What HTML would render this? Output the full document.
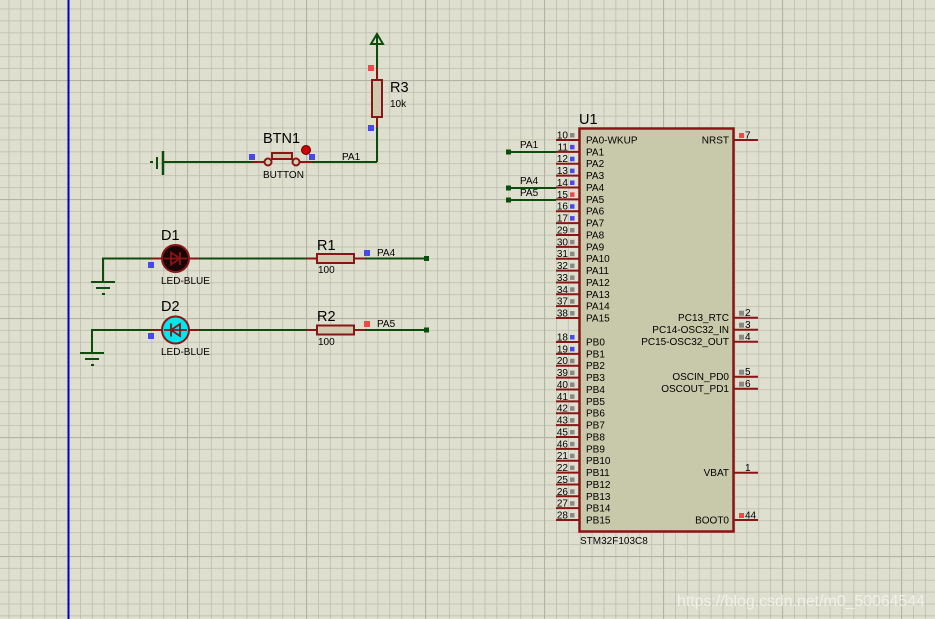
<!DOCTYPE html>
<html><head><meta charset="utf-8"><style>
html,body{margin:0;padding:0;background:#dfdfd0;}
svg{display:block;font-family:"Liberation Sans",sans-serif;}
</style></head><body>
<svg width="935" height="619" viewBox="0 0 935 619" xmlns="http://www.w3.org/2000/svg">
<defs>
<pattern id="g" x="8.6" y="8.6" width="11.9" height="11.9" patternUnits="userSpaceOnUse">
<path d="M0 0H11.9M0 0V11.9" stroke="#bbbbac" stroke-width="1.5" fill="none"/>
</pattern>
<pattern id="G" x="68" y="80" width="119" height="119" patternUnits="userSpaceOnUse">
<path d="M0 0H119M0 0V119" stroke="#b3b3a4" stroke-width="2.2" fill="none"/>
</pattern>
</defs>
<rect width="935" height="619" fill="#dfdfd0"/>
<rect width="935" height="619" fill="url(#g)"/>
<rect width="935" height="619" fill="url(#G)"/>
<line x1="68.5" y1="0" x2="68.5" y2="619" stroke="#0000c8" stroke-width="2"/>

<!-- Button circuit -->
<g stroke="#0b4d0b" stroke-width="2" fill="none">
<line x1="163" y1="162" x2="262" y2="162"/>
<line x1="302" y1="162" x2="377" y2="162"/>
<line x1="377" y1="162" x2="377" y2="126"/>
<line x1="377" y1="70" x2="377" y2="34"/>
<line x1="163" y1="151" x2="163" y2="175" stroke-width="2.5"/>
<line x1="157" y1="157" x2="157" y2="169"/>
<line x1="150" y1="162" x2="153" y2="162"/>
<path d="M371 44 L377 34 L383 44 Z"/>
</g>
<g stroke="#8b1414" stroke-width="2" fill="none">
<line x1="252" y1="162" x2="265" y2="162"/>
<line x1="300" y1="162" x2="312" y2="162"/>
<circle cx="268" cy="162" r="3.5" fill="#d6d3b5"/>
<circle cx="296" cy="162" r="3.5" fill="#d6d3b5"/>
<rect x="272" y="153" width="20" height="6" fill="#cdcab0"/>
<line x1="377" y1="68" x2="377" y2="80"/>
<line x1="377" y1="117" x2="377" y2="128"/>
<rect x="372" y="80" width="10" height="37" fill="#cdcab0"/>
</g>
<circle cx="306" cy="150" r="4.5" fill="#c00" stroke="#600" stroke-width="1"/>
<rect x="368" y="65" width="6" height="6" fill="#f04848"/>
<rect x="368" y="125" width="6" height="6" fill="#4848f0"/>
<rect x="249" y="154" width="6" height="6" fill="#4848f0"/>
<rect x="309" y="154" width="6" height="6" fill="#4848f0"/>
<text x="263" y="143" font-size="14.5">BTN1</text>
<text x="263" y="178" font-size="10">BUTTON</text>
<text x="342" y="160" font-size="10">PA1</text>
<text x="390" y="92" font-size="14.5">R3</text>
<text x="390" y="107" font-size="10">10k</text>

<!-- D1 / D2 -->
<g stroke="#0b4d0b" stroke-width="2" fill="none">
<polyline points="162,258.5 103,258.5 103,282"/>
<line x1="91" y1="282" x2="115" y2="282"/>
<line x1="96" y1="288" x2="110" y2="288"/>
<line x1="102" y1="294" x2="105" y2="294"/>
<line x1="189" y1="258.5" x2="308" y2="258.5"/>
<line x1="364" y1="258.5" x2="427" y2="258.5"/>
<polyline points="162,330 92,330 92,353"/>
<line x1="80" y1="353" x2="104" y2="353"/>
<line x1="85" y1="359" x2="99" y2="359"/>
<line x1="91" y1="365" x2="94" y2="365"/>
<line x1="189" y1="330" x2="308" y2="330"/>
<line x1="364" y1="330" x2="427" y2="330"/>
</g>
<rect x="424" y="256" width="5" height="5" fill="#0b4d0b"/>
<rect x="424" y="327.5" width="5" height="5" fill="#0b4d0b"/>
<g stroke="#8b1414" stroke-width="2">
<line x1="151" y1="258.5" x2="162" y2="258.5"/>
<line x1="189" y1="258.5" x2="199" y2="258.5"/>
<circle cx="175.5" cy="258.5" r="13.5" fill="#1a0505"/>
<line x1="151" y1="330" x2="162" y2="330"/>
<line x1="189" y1="330" x2="199" y2="330"/>
<circle cx="175.5" cy="330" r="13.5" fill="#00e8ec"/>
<line x1="306" y1="258.5" x2="317" y2="258.5"/>
<line x1="354" y1="258.5" x2="365" y2="258.5"/>
<rect x="317" y="254" width="37" height="9" fill="#cdcab0"/>
<line x1="306" y1="330" x2="317" y2="330"/>
<line x1="354" y1="330" x2="365" y2="330"/>
<rect x="317" y="325.5" width="37" height="9" fill="#cdcab0"/>
</g>
<g stroke="#8b1414" stroke-width="1.8" fill="none">
<path d="M180 252 L180 265 M180 258.5 L171 252.5 L171 264.5 Z M164 258.5 H187"/>
<path d="M171 323.5 L171 336.5 M171 330 L180 324 L180 336 Z M164 330 H187"/>
</g>
<rect x="148" y="262" width="6" height="6" fill="#4848f0"/>
<rect x="148" y="333" width="6" height="6" fill="#4848f0"/>
<rect x="364" y="250" width="6" height="6" fill="#4848f0"/>
<rect x="364" y="321" width="6" height="6" fill="#f04848"/>
<text x="161" y="240" font-size="14.5">D1</text>
<text x="161" y="284" font-size="10">LED-BLUE</text>
<text x="161" y="311" font-size="14.5">D2</text>
<text x="161" y="355" font-size="10">LED-BLUE</text>
<text x="317" y="250" font-size="14.5">R1</text>
<text x="318" y="273" font-size="10">100</text>
<text x="317" y="321" font-size="14.5">R2</text>
<text x="318" y="345" font-size="10">100</text>
<text x="377" y="256" font-size="10">PA4</text>
<text x="377" y="327" font-size="10">PA5</text>

<!-- MCU -->
<g stroke="#0b4d0b" stroke-width="2">
<line x1="508" y1="152" x2="556" y2="152"/>
<line x1="508" y1="188" x2="556" y2="188"/>
<line x1="508" y1="200" x2="556" y2="200"/>
</g>
<rect x="506" y="149.5" width="5" height="5" fill="#0b4d0b"/>
<rect x="506" y="185.5" width="5" height="5" fill="#0b4d0b"/>
<rect x="506" y="197.5" width="5" height="5" fill="#0b4d0b"/>
<text x="520" y="148" font-size="10">PA1</text>
<text x="520" y="184" font-size="10">PA4</text>
<text x="520" y="196" font-size="10">PA5</text>
<rect x="579.5" y="128.5" width="154" height="403" fill="#c8c8aa" stroke="#8b1414" stroke-width="2.5"/>
<text x="579" y="124" font-size="14.5">U1</text>
<text x="580" y="544" font-size="10">STM32F103C8</text>
<g id="pins" font-size="10"></g>
<script>
(function(){
var ns="http://www.w3.org/2000/svg",g=document.getElementById("pins");
function el(t,a,txt){var e=document.createElementNS(ns,t);for(var k in a)e.setAttribute(k,a[k]);if(txt)e.textContent=txt;g.appendChild(e);}
var pa=["PA0-WKUP","PA1","PA2","PA3","PA4","PA5","PA6","PA7","PA8","PA9","PA10","PA11","PA12","PA13","PA14","PA15"];
var pan=["10","11","12","13","14","15","16","17","29","30","31","32","33","34","37","38"];
var pb=["PB0","PB1","PB2","PB3","PB4","PB5","PB6","PB7","PB8","PB9","PB10","PB11","PB12","PB13","PB14","PB15"];
var pbn=["18","19","20","39","40","41","42","43","45","46","21","22","25","26","27","28"];
var blue={"11":1,"12":1,"13":1,"14":1,"16":1,"17":1,"18":1,"19":1},red={"15":1};
function left(name,num,y){
 el("line",{x1:556,y1:y,x2:579,y2:y,stroke:"#8b1414","stroke-width":2});
 el("text",{x:568,y:y-1.5,"text-anchor":"end"},num);
 el("rect",{x:570,y:y-7,width:4.5,height:4.5,fill:blue[num]?"#4848f0":red[num]?"#f04848":"#888"});
 el("text",{x:586,y:y+3.5},name);
}
for(var i=0;i<16;i++){left(pa[i],pan[i],140+11.87*i);left(pb[i],pbn[i],342+11.87*i);}
var r=[["NRST","7",140,"#f04848"],["PC13_RTC","2",317.7,"#888"],["PC14-OSC32_IN","3",329.7,"#888"],["PC15-OSC32_OUT","4",341.7,"#888"],["OSCIN_PD0","5",376.7,"#888"],["OSCOUT_PD1","6",388.7,"#888"],["VBAT","1",472.7,null],["BOOT0","44",520,"#f04848"]];
r.forEach(function(p){var y=p[2];
 el("line",{x1:734,y1:y,x2:758,y2:y,stroke:"#8b1414","stroke-width":2});
 el("text",{x:745,y:y-1.5},p[1]);
 if(p[3])el("rect",{x:739,y:y-7,width:5,height:5,fill:p[3]});
 el("text",{x:729,y:y+3.5,"text-anchor":"end"},p[0]);
});
})();
</script>
<text x="677" y="606" font-size="15.5" fill="#f4f4ee" opacity="0.85" textLength="248" lengthAdjust="spacingAndGlyphs">https://blog.csdn.net/m0_50064544</text>
</svg>
</body></html>
